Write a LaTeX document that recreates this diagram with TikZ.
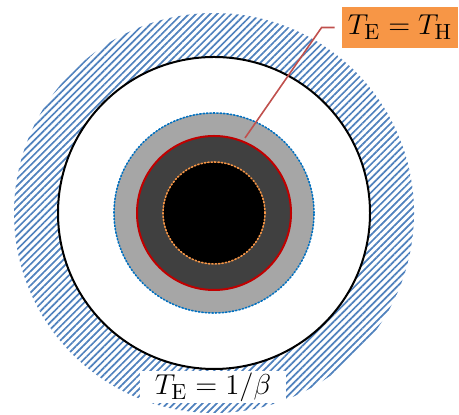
\documentclass[tikz,border=0pt]{standalone}
\usepackage{amsmath,amssymb}
\usetikzlibrary{patterns.meta}
\definecolor{hatchblue}{HTML}{4F81BD}
\definecolor{dotblue}{HTML}{0070C0}
\definecolor{horizred}{HTML}{C00000}
\definecolor{labelorange}{HTML}{F79646}
\definecolor{leaderred}{HTML}{C0504D}

\begin{document}
\begin{tikzpicture}[x=0.5pt, y=0.5pt, every node/.style={font=\fontsize{15.2}{18}\selectfont},
	ring/.style={line width=1pt}, dots/.style={line width=0.8pt, dash pattern=on 0.7pt off 1pt, line cap=round}]
	\useasboundingbox (0,0) rectangle (459,415);
	\coordinate (O) at (214,202);
	\fill[pattern={Lines[angle=45, distance=2.5pt, line width=0.85pt]}, pattern color=hatchblue] (O) circle[radius=200];
	\draw[ring, fill=white] (O) circle[radius=156];
	\fill[black!35] (O) circle[radius=100];
	\draw[dots, dotblue] (O) circle[radius=100];
	\draw[ring, horizred, fill=black!75] (O) circle[radius=77];
	\fill[black] (O) circle[radius=51];
	\draw[dots, labelorange] (O) circle[radius=51];
	\node[fill=labelorange, minimum width=58pt, minimum height=20.5pt, inner sep=0pt] (th) at (400,387.5) {$T_{\mathrm{E}}=T_{\mathrm{H}}$};
	\coordinate (hot) at (245,277);
	\draw[leaderred, line width=0.8pt] ([xshift=-3.5pt]th.west) -- ++(-13,0) -- (hot);
	\node[fill=white, minimum width=73pt, minimum height=16pt, inner sep=0pt] (beta) at (213,28) {$T_{\mathrm{E}}=1/\beta$};
\end{tikzpicture}
\end{document}
